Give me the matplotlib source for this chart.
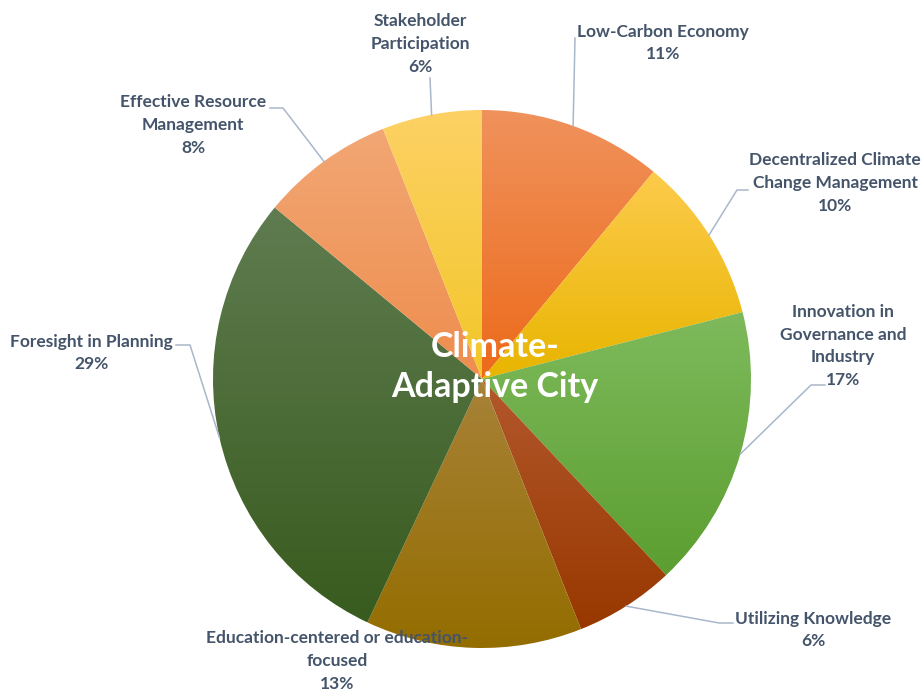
import numpy as np
import matplotlib.pyplot as plt
from matplotlib.colors import LinearSegmentedColormap

# slice data, clockwise from 12 o'clock
labels = ["Low-Carbon Economy", "Decentralized Climate\nChange Management",
          "Innovation in\nGovernance and\nIndustry", "Utilizing Knowledge",
          "Education-centered or education-\nfocused", "Foresight in Planning",
          "Effective Resource\nManagement", "Stakeholder\nParticipation"]
shares = [11, 10, 17, 6, 13, 29, 8, 6]
top_colors = ["#F0925C", "#FDCB4C", "#7EBA5C", "#B3582C", "#A88238", "#5F7C50", "#F2A774", "#FDD164"]
bottom_colors = ["#EC6A1A", "#E8B500", "#5C9E30", "#983800", "#946D00", "#385B1E", "#EE8D4E", "#F2C628"]

H = 692
def px(x, y):
    return (x, H - y)

# label centres and leader elbows (pixel coords, y down)
label_pos = [(663, 43), (835, 183), (843, 346), (813, 630), (337, 661), (91, 353), (193, 125), (420, 44)]
leaders = [[(575, 38)], [(737, 190), (748, 190)], [(811, 385), (825, 385)], [(719, 623), (733, 623)],
           None, [(190, 345), (176, 345)], [(283, 108), (270, 108)], [(430, 78)]]

label_color = "#44546A"
line_color = "#A9B7CA"
plt.rcParams['font.family'] = ['Lato', 'DejaVu Sans']

fig = plt.figure(figsize=(9.21, 6.92), dpi=100)
ax = fig.add_axes([0, 0, 1, 1])
center = px(482, 379)
r = 269
wedges, _ = ax.pie(shares, startangle=90, counterclock=False, center=center, radius=r)

grad = np.linspace(0, 1, 256).reshape(-1, 1)
for i, w in enumerate(wedges):
    w.set_facecolor("none")
    w.set_linewidth(0)
    ang = np.radians(np.linspace(w.theta1, w.theta2, 200))
    xs = np.append(center[0] + r * np.cos(ang), center[0])
    ys = np.append(center[1] + r * np.sin(ang), center[1])
    cmap = LinearSegmentedColormap.from_list("g%d" % i, [bottom_colors[i], top_colors[i]])
    im = ax.imshow(grad, cmap=cmap, origin="lower", aspect="auto",
                   extent=[xs.min(), xs.max(), ys.min(), ys.max()], zorder=1)
    im.set_clip_path(w)

    mid = np.radians((w.theta1 + w.theta2) / 2)
    anchor = (center[0] + r * np.cos(mid), center[1] + r * np.sin(mid))
    if leaders[i] is not None:
        pts = [anchor] + [px(*p) for p in leaders[i]]
        ax.plot([p[0] for p in pts], [p[1] for p in pts], color=line_color, lw=1.1, zorder=2)
    lx, ly = px(*label_pos[i])
    ax.text(lx, ly, "%s\n%d%%" % (labels[i], shares[i]), ha="center", va="center",
            fontsize=12.5, fontweight="bold", color=label_color, linespacing=1.52, zorder=3)

cx, cy = px(495, 367)
ax.text(cx, cy, "Climate-\nAdaptive City", ha="center", va="center", fontsize=24.5,
        fontweight="bold", color="white", linespacing=1.28, zorder=4)

ax.set_xlim(0, 921)
ax.set_ylim(0, H)
ax.set_aspect("equal")
ax.axis("off")
fig.savefig("out.png", dpi=100, facecolor="white")
